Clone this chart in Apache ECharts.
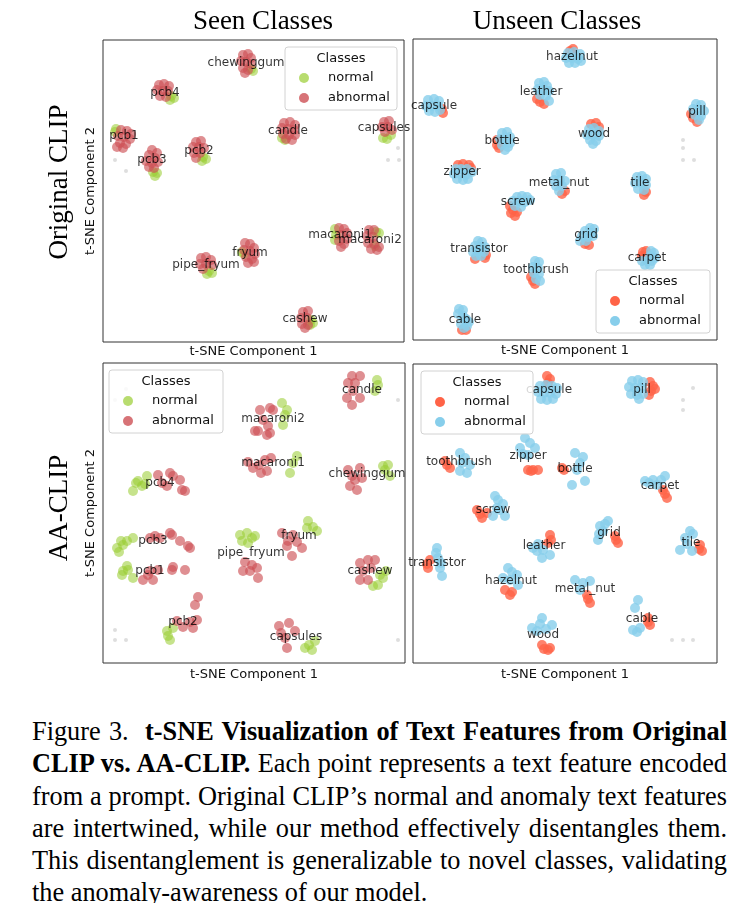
<!DOCTYPE html>
<html>
<head>
<meta charset="utf-8">
<script src="https://cdn.jsdelivr.net/npm/echarts@6/dist/echarts.min.js"></script>
<style>
body{margin:0;background:#fff;width:731px;height:903px;overflow:hidden;position:relative}
#chart{position:absolute;left:0;top:0;width:731px;height:700px}
#cap{position:absolute;left:32px;top:716px;width:695px;font-family:"Liberation Serif",serif;font-size:26px;line-height:32.3px;color:#000}
#cap .j{text-align:justify;text-align-last:justify}
#cap .k{text-align:left}
</style>
</head>
<body>
<div id="chart"></div>
<div id="cap">
<div class="j">Figure 3.&nbsp; <b>t-SNE Visualization of Text Features from Original</b></div>
<div class="j"><b>CLIP vs. AA-CLIP.</b> Each point represents a text feature encoded</div>
<div class="j">from a prompt. Original CLIP’s normal and anomaly text features</div>
<div class="j">are intertwined, while our method effectively disentangles them.</div>
<div class="j">This disentanglement is generalizable to novel classes, validating</div>
<div class="k">the anomaly-awareness of our model.</div>
</div>
<script>
// ---------- Original CLIP, seen classes ----------
const tlNormal = [
  [148,29],[150,31],                       // chewinggum
  [68,56],[71,58],[67,60],                 // pcb4
  [13,89],[12,92],                         // pcb1
  [50,132],[52,136],[54,133],              // pcb3
  [100,117],[103,119],[99,121],            // pcb2
  [182,100],[179,98],                      // candle
  [280,98],[284,99],[288,95],              // capsules
  [106,231],[109,233],[104,234],           // pipe_fryum
  [139,212],[141,214],                     // fryum
  [232,189],[233,195],[232,200],           // macaroni1
  [273,192],[276,193],[272,206],           // macaroni2
  [208,280],[210,283],[207,285]            // cashew
];
const tlAbnormal = [
  [140,15],[145,14],[148,18],[138,21],[143,22],[148,24],[140,28],[145,30],[142,33],
  [56,45],[61,44],[66,46],[54,50],[60,51],[65,51],[57,56],[63,57],
  [18,90],[24,91],[28,94],[15,96],[21,97],[27,99],[17,103],[23,104],[14,107],[20,108],
  [49,110],[54,113],[46,115],[52,118],[43,121],[49,123],[55,122],[46,127],[51,128],
  [93,102],[98,101],[90,107],[96,107],[101,108],[91,113],[97,113],[93,118],
  [181,83],[187,82],[192,85],[179,88],[185,89],[191,90],[180,94],[186,95],[192,95],[183,99],[189,100],
  [281,82],[286,81],[279,87],[285,87],[289,90],[282,92],
  [98,218],[103,217],[108,220],[97,224],[103,224],[109,225],[100,229],
  [142,203],[147,204],[151,208],[141,210],[147,211],[152,214],[143,217],[149,219],[145,223],[151,222],
  [236,188],[241,189],[244,193],[238,195],[244,199],[236,201],[241,204],[238,207],
  [266,190],[271,190],[264,196],[270,197],[265,203],[271,204],[268,209],[274,210],[276,207],
  [200,272],[205,271],[198,278],[204,278],[199,284],[205,285],[202,288]
];
const tlLabels = [
  ['chewinggum',143,23],['pcb4',62,53],['pcb1',21,96],['pcb3',49,120],['pcb2',96,111],
  ['candle',185,91],['capsules',281,88],['pipe_fryum',103,225],['fryum',147,213],
  ['macaroni1',237,195],['macaroni2',267,200],['cashew',202,279]
];
const tlGrey = [[12,120],[23,131],[295,108],[285,120],[296,120]];

// ---------- Original CLIP, unseen classes ----------
const trNormal = [
  [160,10],[157,12],                        // hazelnut
  [124,60],[127,63],[131,65],               // leather
  [29,70],[30,74],                          // capsule
  [84,101],[84,106],[86,109],               // bottle
  [45,126],[50,125],[56,126],[58,129],      // zipper
  [149,155],[152,152],                      // metal_nut
  [178,85],[183,84],[186,88],               // wood
  [278,75],[280,79],[284,83],               // pill
  [233,153],[231,156],                      // tile
  [97,167],[100,171],[104,173],[102,177],[98,174], // screw
  [62,220],[73,216],[72,219],               // transistor
  [118,238],[120,242],[122,245],            // toothbrush
  [49,291],[53,291],                        // cable
  [172,205],[176,206],                      // grid
  [230,213],[233,212],[229,217],[232,218]   // carpet
];
const trAbnormal = [
  [155,14],[161,13],[167,15],[153,19],[159,19],[165,20],[156,24],[162,24],[168,22],
  [126,44],[131,43],[134,47],[125,50],[131,51],[136,52],[127,56],[133,57],[136,62],
  [15,61],[21,60],[26,62],[13,67],[19,67],[25,67],[16,72],[22,73],[27,71],
  [89,94],[94,93],[97,98],[87,100],[92,101],[97,104],[89,106],[95,108],[92,111],
  [43,130],[48,130],[54,130],[59,133],[41,135],[47,135],[53,136],[44,140],[50,141],[55,140],
  [143,135],[148,134],[141,141],[147,141],[152,142],[143,147],[149,147],[146,152],
  [176,90],[181,89],[186,92],[174,96],[180,96],[186,97],[177,101],[183,102],[180,105],
  [283,65],[288,66],[280,70],[286,71],[291,72],[282,76],[288,77],[286,81],
  [224,138],[229,137],[233,140],[222,144],[228,144],[233,146],[225,150],[231,151],
  [104,158],[109,157],[114,158],[117,161],[100,162],[106,162],[112,163],[102,167],[108,168],
  [65,202],[69,203],[62,207],[67,208],[72,208],[60,213],[65,213],[71,213],[63,217],[68,217],
  [122,222],[126,223],[120,228],[125,229],[121,234],[126,235],[123,240],[127,242],
  [46,270],[50,271],[45,275],[50,277],[53,280],[56,283],[48,285],[54,287],[51,289],
  [177,189],[181,190],[172,192],[178,194],[169,197],[175,198],[180,197],[167,202],[173,202],
  [238,212],[241,214],[237,217],[242,219],[229,222],[234,222],[239,222],[232,226],[237,226]
];
const trLabels = [
  ['hazelnut',159,18],['leather',128,53],['capsule',21,67],['pill',284,73],['bottle',89,102],
  ['wood',181,95],['zipper',49,133],['metal_nut',146,144],['tile',227,144],['screw',105,163],
  ['grid',173,196],['transistor',66,210],['carpet',234,219],['toothbrush',123,231],['cable',52,281]
];
const trGrey = [[270,101],[270,109],[270,121],[281,121]];

// ---------- AA-CLIP, seen classes ----------
const blNormal = [
  [30,128],[33,120],[35,118],[44,113],[42,121],[39,123],           // pcb4
  [14,185],[16,189],[18,178],[24,178],[30,175],[20,182],           // pcb3
  [19,212],[24,203],[30,215],[20,208],[25,207],                    // pcb1
  [64,268],[67,277],[70,265],[65,273],                             // pcb2
  [179,40],[184,47],[180,62],[182,52],                             // macaroni2
  [194,93],[187,110],[190,100],                                    // macaroni1
  [274,17],[272,28],[275,22],                                      // candle
  [280,103],[285,102],[287,113],[282,107],                         // chewinggum
  [205,158],[204,165],[214,168],[210,164],                         // fryum
  [137,172],[144,170],[149,175],[139,178],[145,180],[152,173],     // pipe_fryum
  [280,215],[275,222],[270,223],[277,212],[283,208],               // cashew
  [202,285],[209,287],[212,278],[206,282]                          // capsules
];
const blAbnormal = [
  [55,112],[67,110],[70,113],[64,123],[77,117],[79,127],[82,128],[59,120],
  [47,175],[52,173],[57,175],[67,170],[69,172],[77,178],[85,183],[87,185],
  [40,217],[47,208],[50,217],[55,207],[70,204],[82,207],[69,207],[45,212],
  [95,234],[92,242],[94,257],[90,265],[80,264],[74,258],[87,259],
  [157,47],[167,45],[170,47],[155,68],[164,72],[167,70],[165,63],[160,57],[152,68],
  [145,99],[150,105],[156,102],[162,97],[168,95],[158,110],[164,108],
  [249,13],[257,13],[245,20],[252,20],[244,35],[257,35],[249,42],[250,28],
  [245,107],[257,105],[249,113],[259,115],[247,123],[254,127],[252,117],
  [179,170],[185,178],[190,172],[199,185],[189,193],[184,183],[194,179],
  [154,205],[155,215],[147,208],[142,199],[149,202],[140,208],
  [257,200],[265,197],[272,197],[260,208],[257,217],[265,217],[268,205],
  [176,263],[186,260],[192,268],[182,275],[184,285],[178,270]
];
const blLabels = [
  ['macaroni2',170,56],['candle',259,27],['macaroni1',170,100],['chewinggum',264,111],
  ['pcb4',57,120],['pcb3',50,178],['fryum',196,173],['pipe_fryum',148,190],['pcb1',47,208],
  ['cashew',267,208],['pcb2',80,259],['capsules',193,274]
];
const blGrey = [[12,37],[23,26],[12,267],[12,277],[23,277],[295,37],[295,277]];

// ---------- AA-CLIP, unseen classes ----------
const brNormal = [
  [134,12],[135,19],[137,15],                 // capsule
  [237,18],[240,22],[238,27],[236,31],[242,25], // pill
  [32,97],[37,104],[34,101],                  // toothbrush
  [115,106],[120,106],[125,106],[118,107],    // zipper
  [149,104],[151,106],                        // bottle
  [64,146],[69,154],[74,149],[67,150],        // screw
  [137,171],[135,179],[138,176],              // leather
  [15,204],[17,196],[14,200],                 // transistor
  [92,226],[97,231],[99,228],                 // hazelnut
  [129,281],[135,286],[131,285],[137,284],    // wood
  [250,126],[254,134],[252,130],              // carpet
  [202,172],[205,179],[203,176],              // grid
  [287,181],[289,187],[286,185],              // tile
  [174,231],[177,239],[175,235],              // metal_nut
  [235,254],[237,261],[235,258]               // cable
];
const brAbnormal = [
  [127,22],[133,21],[139,22],[144,24],[125,28],[131,29],[137,29],[143,30],[128,35],[134,36],[140,35],
  [219,17],[225,16],[230,18],[216,23],[222,24],[228,24],[218,30],[224,31],[230,30],[226,35],
  [47,89],[52,94],[47,107],[54,109],[57,101],[49,99],
  [112,74],[107,84],[122,84],[115,91],[117,79],[110,90],
  [162,89],[167,99],[172,117],[159,121],[164,106],[170,93],
  [82,132],[85,136],[80,152],[92,152],[87,146],[90,140],[84,144],
  [120,184],[129,194],[137,191],[124,187],[130,186],[125,180],
  [24,184],[25,194],[27,204],[29,212],[23,189],[28,199],
  [95,204],[104,211],[105,221],[90,214],[99,208],[97,216],
  [129,254],[119,264],[139,261],[124,267],[127,260],[133,265],
  [232,117],[240,116],[252,112],[244,121],[236,119],[248,116],
  [187,162],[195,157],[185,176],[190,167],[192,160],[186,170],
  [277,167],[272,174],[267,186],[279,187],[274,180],[280,170],
  [162,216],[177,217],[167,226],[170,219],
  [225,236],[222,244],[220,266],[227,264],[224,268]
];
const brLabels = [
  ['capsule',136,26],['pill',229,26],['toothbrush',46,98],['zipper',115,92],['bottle',162,105],
  ['carpet',247,122],['screw',80,146],['grid',196,169],['tile',278,179],['leather',131,182],
  ['transistor',24,199],['hazelnut',98,217],['metal_nut',172,225],['cable',229,255],['wood',130,271]
];
const brGrey = [[280,24],[270,36],[270,46],[259,276],[270,276],[280,276]];

const seriesNames = ['normal','abnormal'];
const legendTitle = 'Classes';
const colTitles = ['Seen Classes','Unseen Classes'];
const rowTitles = ['Original CLIP','AA-CLIP'];
const xName = 't-SNE Component 1';
const yName = 't-SNE Component 2';

// ---------- styling / layout ----------
const GREEN = 'rgba(154,205,50,0.7)';
const RED = 'rgba(205,80,85,0.8)';
const TOMATO = '#ff6347';
const SKY = '#87ceeb';
const SANS = '"DejaVu Sans", sans-serif';
const SERIF = '"Liberation Serif", serif';

const panels = [
  {left:103, top:40,  w:301, h:302, n:tlNormal, a:tlAbnormal, lab:tlLabels, g:tlGrey, cn:GREEN, ca:RED, yname:true, gap:3},
  {left:413, top:39,  w:304, h:301, n:trNormal, a:trAbnormal, lab:trLabels, g:trGrey, cn:TOMATO, ca:SKY, yname:false, gap:4},
  {left:103, top:363, w:302, h:300, n:blNormal, a:blAbnormal, lab:blLabels, g:blGrey, cn:GREEN, ca:RED, yname:true, gap:5},
  {left:413, top:364, w:304, h:299, n:brNormal, a:brAbnormal, lab:brLabels, g:brGrey, cn:TOMATO, ca:SKY, yname:false, gap:5}
];

const grid = [], xAxis = [], yAxis = [], series = [];
panels.forEach((p, i) => {
  grid.push({left:p.left, top:p.top, width:p.w, height:p.h, show:true, borderColor:'#333', borderWidth:1, backgroundColor:'transparent'});
  xAxis.push({gridIndex:i, type:'value', min:0, max:p.w, axisLine:{show:false}, axisTick:{show:false}, axisLabel:{show:false}, splitLine:{show:false},
    name:xName, nameLocation:'middle', nameGap:p.gap, nameTextStyle:{fontFamily:SANS, fontSize:13, color:'#111'}});
  yAxis.push({gridIndex:i, type:'value', min:0, max:p.h, inverse:true, axisLine:{show:false}, axisTick:{show:false}, axisLabel:{show:false}, splitLine:{show:false},
    name:p.yname ? yName : '', nameLocation:'middle', nameGap:6, nameTextStyle:{fontFamily:SANS, fontSize:13, color:'#111'}});
  series.push({type:'scatter', name:seriesNames[0], xAxisIndex:i, yAxisIndex:i, data:p.g, symbolSize:4, silent:true, itemStyle:{color:'#d6d6d6'}, z:1});
  series.push({type:'scatter', name:seriesNames[0], xAxisIndex:i, yAxisIndex:i, data:p.n, symbolSize:10, silent:true, itemStyle:{color:p.cn}, z:2});
  series.push({type:'scatter', name:seriesNames[1], xAxisIndex:i, yAxisIndex:i, data:p.a, symbolSize:10, silent:true, itemStyle:{color:p.ca}, z:3});
  series.push({type:'scatter', name:'labels', xAxisIndex:i, yAxisIndex:i, clip:false, silent:true, symbolSize:0.1,
    itemStyle:{color:'rgba(0,0,0,0)'}, z:5,
    data:p.lab.map(l => ({name:l[0], value:[l[1], l[2]]})),
    label:{show:true, position:'inside', formatter:'{b}', fontFamily:SANS, fontSize:12, color:'#000'}});
});

function legend(bx, by, bw, cn, ca) {
  const txt = (t, x, y, al) => ({type:'text', x:x, y:y, z:101, silent:true,
    style:{text:t, font:'13px ' + SANS, fill:'#111', align:al, verticalAlign:'middle'}});
  return [
    {type:'rect', z:100, silent:true, shape:{x:bx, y:by, width:bw, height:63, r:3},
      style:{fill:'rgba(255,255,255,0.8)', stroke:'#d2d2d2', lineWidth:1}},
    txt(legendTitle, bx + bw/2, by + 11.5, 'center'),
    {type:'circle', z:101, silent:true, shape:{cx:bx+19, cy:by+31, r:5}, style:{fill:cn}},
    txt(seriesNames[0], bx + 43, by + 31, 'left'),
    {type:'circle', z:101, silent:true, shape:{cx:bx+19, cy:by+51, r:5}, style:{fill:ca}},
    txt(seriesNames[1], bx + 43, by + 51, 'left')
  ];
}

const graphic = [
  {type:'text', x:263, y:22, style:{text:colTitles[0], font:'27px ' + SERIF, fill:'#000', align:'center', verticalAlign:'middle'}},
  {type:'text', x:557, y:22, style:{text:colTitles[1], font:'27px ' + SERIF, fill:'#000', align:'center', verticalAlign:'middle'}},
  {type:'text', x:60, y:182, rotation:Math.PI/2, style:{text:rowTitles[0], font:'27px ' + SERIF, fill:'#000', align:'center', verticalAlign:'middle'}},
  {type:'text', x:60, y:508, rotation:Math.PI/2, style:{text:rowTitles[1], font:'27px ' + SERIF, fill:'#000', align:'center', verticalAlign:'middle'}}
].concat(
  legend(285, 47, 112, GREEN, RED),
  legend(596, 270, 114, TOMATO, SKY),
  legend(109, 370, 114, GREEN, RED),
  legend(421, 371, 112, TOMATO, SKY)
);

const chart = echarts.init(document.getElementById('chart'), null, {renderer:'canvas'});
chart.setOption({animation:false, backgroundColor:'#fff', grid, xAxis, yAxis, series, graphic});

// caption: largest common font size (up to 27px) at which every justified line fits on one line
(function fitCaption() {
  const cap = document.getElementById('cap');
  const lines = Array.from(cap.querySelectorAll('.j'));
  const probe = document.createElement('span');
  probe.style.cssText = 'position:absolute;visibility:hidden;white-space:nowrap;font-family:"Liberation Serif",serif;font-size:26px';
  document.body.appendChild(probe);
  let s = 27;
  lines.forEach(l => {
    probe.innerHTML = l.innerHTML;
    const w = probe.getBoundingClientRect().width;
    s = Math.min(s, 26 * 693 / w);
  });
  probe.remove();
  cap.style.fontSize = s.toFixed(2) + 'px';
})();
</script>
</body>
</html>
